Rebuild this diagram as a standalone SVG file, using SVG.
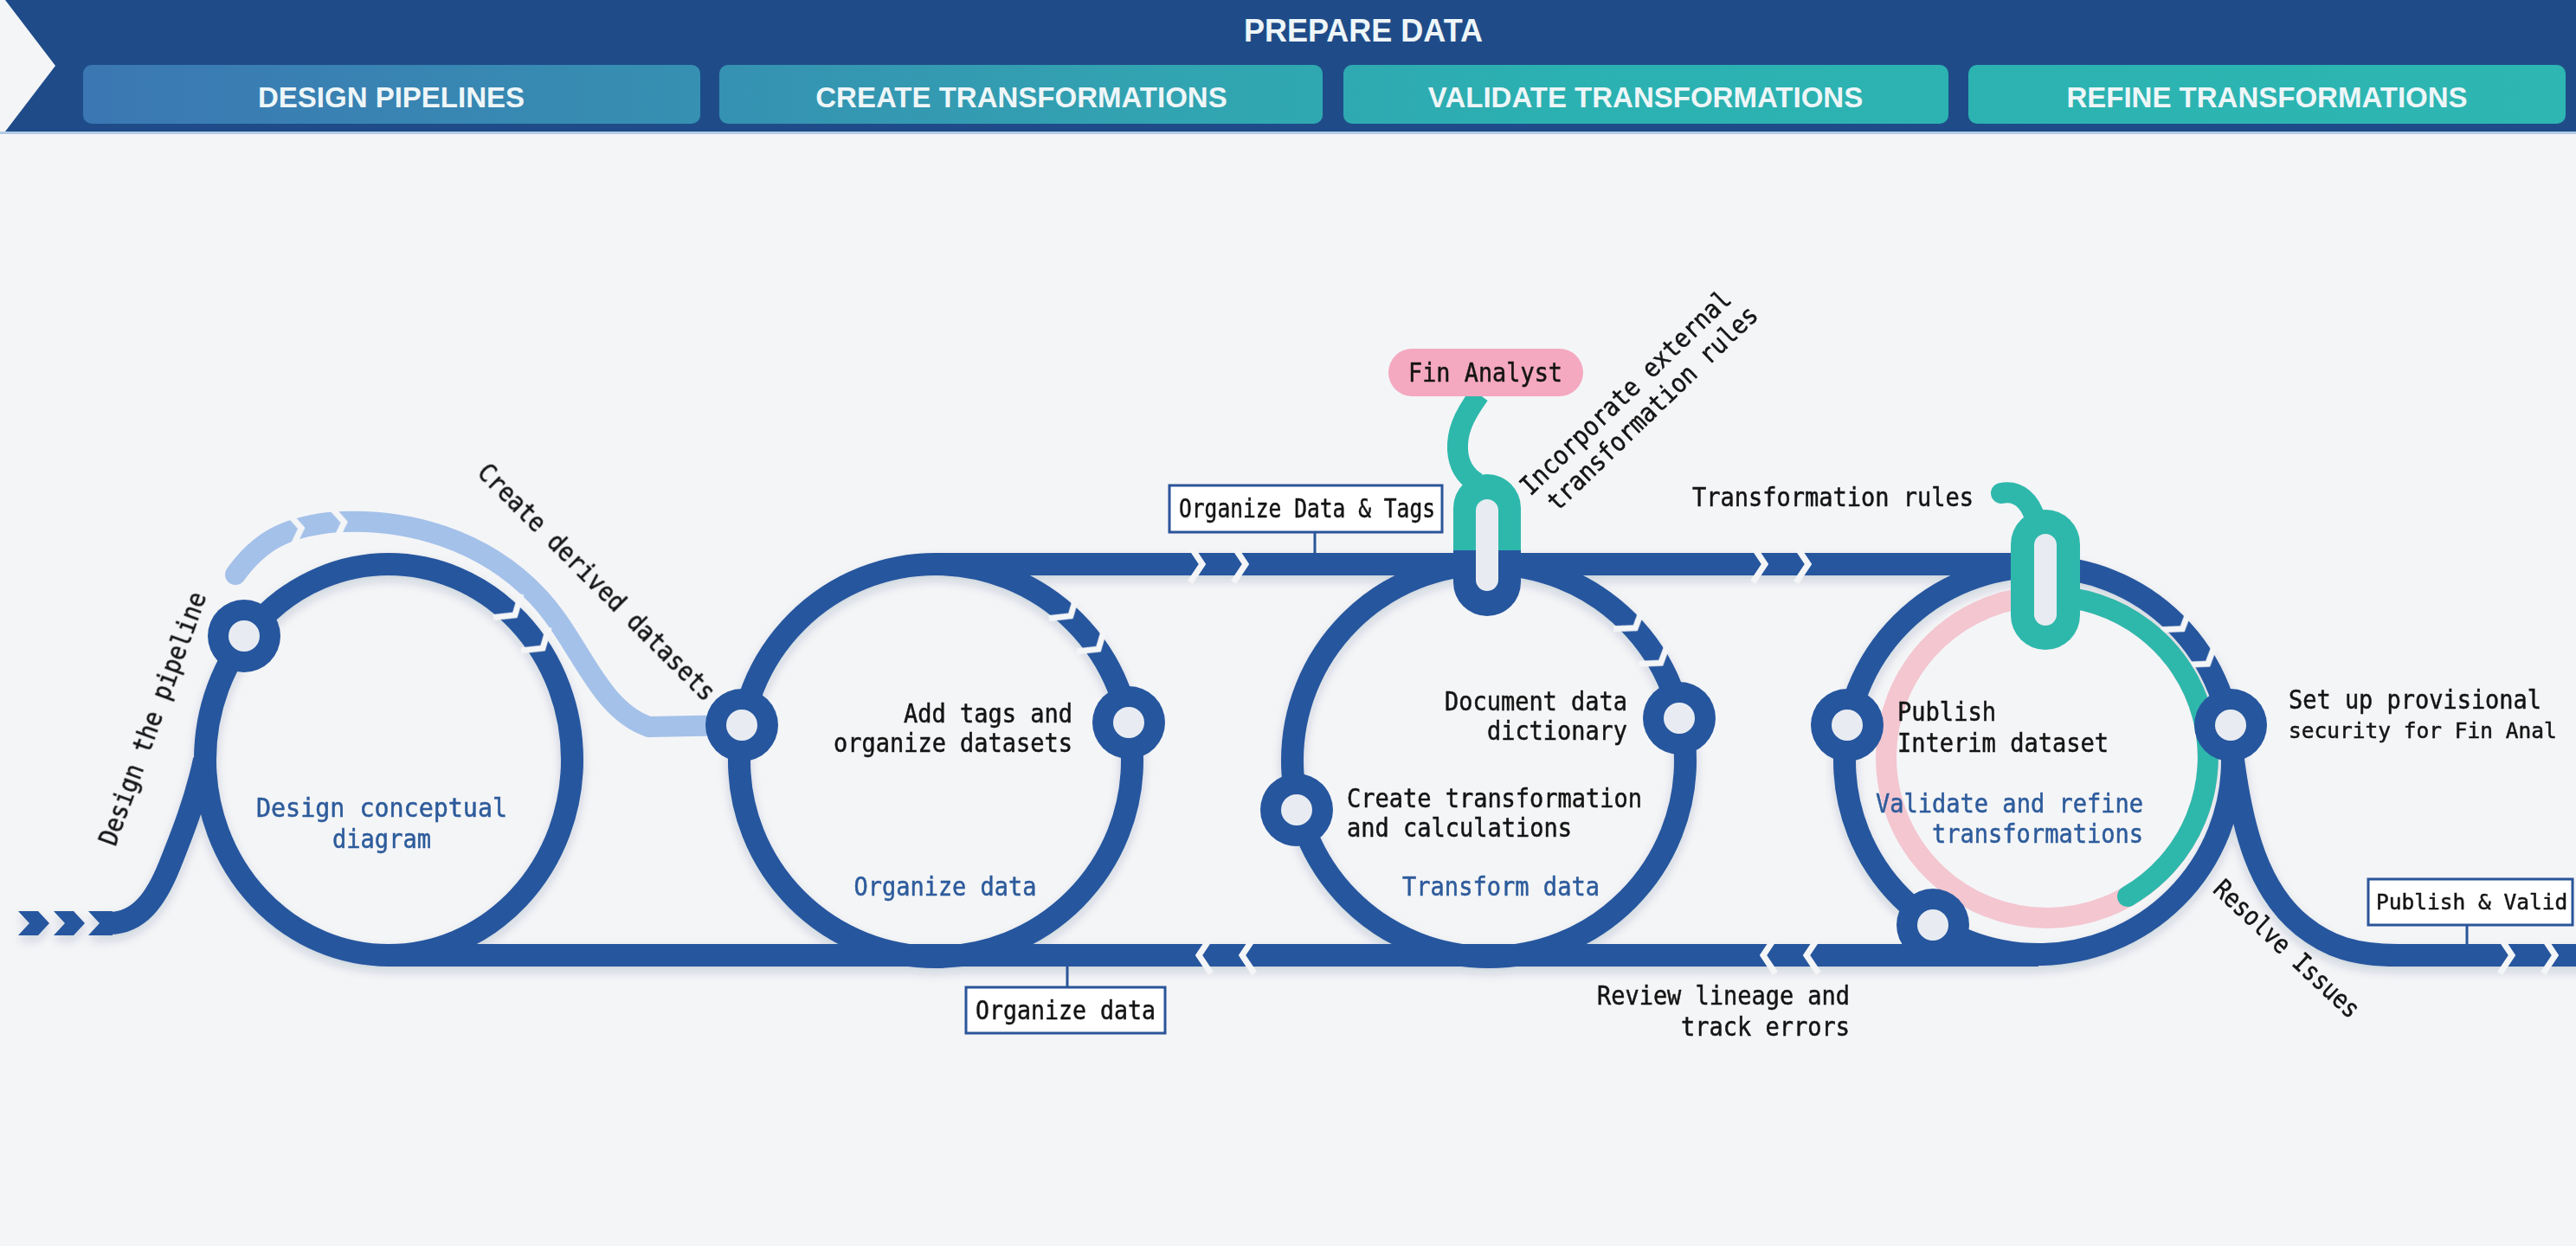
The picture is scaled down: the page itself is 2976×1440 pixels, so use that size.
<svg xmlns="http://www.w3.org/2000/svg" width="2976" height="1440" viewBox="0 0 2976 1440">
<defs>
  <linearGradient id="hdrGrad" gradientUnits="userSpaceOnUse" x1="96" y1="0" x2="2964" y2="0">
    <stop offset="0" stop-color="#3b77b3"/>
    <stop offset="0.42" stop-color="#32a2b1"/>
    <stop offset="0.6" stop-color="#2bb1b1"/>
    <stop offset="1" stop-color="#2db6b2"/>
  </linearGradient>
  <linearGradient id="capGrad" gradientUnits="userSpaceOnUse" x1="0" y1="548" x2="0" y2="712">
    <stop offset="0.537" stop-color="#2eb8ac"/>
    <stop offset="0.537" stop-color="#26569e"/>
  </linearGradient>
  <filter id="sh" x="-5%" y="-10%" width="110%" height="130%">
    <feDropShadow dx="0" dy="6" stdDeviation="6" flood-color="#1d2f55" flood-opacity="0.16"/>
  </filter>
  <g id="chev" fill="none" stroke="#f4f5f7" stroke-width="7">
    <polyline points="-39,-21 -25,0 -39,21"/>
    <polyline points="11,-21 25,0 11,21"/>
  </g>
  <polygon id="entryChev" points="0,-14 23,-14 36,0 23,14 0,14 13,0" fill="#26569e"/>
  <g id="ring"><circle r="42" fill="#26569e"/><circle r="18" fill="#e8ecf2"/></g>
</defs>
<style>
.trk{fill:none;stroke:#26569e;stroke-width:26}
.lbl{font-family:"DejaVu Sans Mono","Liberation Mono",monospace;font-size:30px;fill:#141414;stroke:#141414;stroke-width:0.5}
.sm{font-size:24.5px}
.blu{fill:#2d5b9b;stroke:#2d5b9b}
.hdr{font-family:"Liberation Sans",Arial,sans-serif;font-weight:bold;fill:#eef6f8;text-anchor:middle}
.box{fill:#ffffff;stroke:#2a5599;stroke-width:3}
.lead{stroke:#2a5599;stroke-width:3}
.teal{fill:none;stroke:#2eb8ac;stroke-width:24}
</style>
<rect x="0" y="0" width="2976" height="1440" fill="#f4f5f7"/>

<g id="header">
  <polygon points="6,0 2976,0 2976,152 6,152 64,76" fill="#1f4c89"/>
  <rect x="0" y="152" width="2976" height="3" fill="#b3cbe4"/>
  <text class="hdr" x="1575" y="48" font-size="36">PREPARE DATA</text>
  <g id="phase-design"><rect x="96" y="75" width="713" height="68" rx="10" fill="url(#hdrGrad)"/><text class="hdr" x="452" y="124" font-size="33">DESIGN PIPELINES</text></g>
  <g id="phase-create"><rect x="831" y="75" width="697" height="68" rx="10" fill="url(#hdrGrad)"/><text class="hdr" x="1180" y="124" font-size="33">CREATE TRANSFORMATIONS</text></g>
  <g id="phase-validate"><rect x="1552" y="75" width="699" height="68" rx="10" fill="url(#hdrGrad)"/><text class="hdr" x="1901" y="124" font-size="33">VALIDATE TRANSFORMATIONS</text></g>
  <g id="phase-refine"><rect x="2274" y="75" width="690" height="68" rx="10" fill="url(#hdrGrad)"/><text class="hdr" x="2619" y="124" font-size="33">REFINE TRANSFORMATIONS</text></g>
</g>

<g id="connectors">
  <path d="M 272 664 C 300 625 330 610 380 604 C 470 596 560 625 620 688 C 670 740 690 820 750 840 L 850 838" fill="none" stroke="#a4c1e9" stroke-width="24" stroke-linecap="round"/>
  <g filter="url(#sh)">
    <use href="#entryChev" transform="translate(21,1067)"/>
    <use href="#entryChev" transform="translate(62,1067)"/>
    <polygon points="102,1053 130,1053 130,1081 102,1081 115,1067" fill="#26569e"/>
    <path class="trk" d="M 126 1067 C 160 1067 180 1040 196 1000 C 210 965 226 925 236 878"/>
    <ellipse class="trk" cx="449" cy="878" rx="212" ry="226"/>
    <circle class="trk" cx="1081" cy="879" r="227"/>
    <circle class="trk" cx="1720" cy="879" r="227"/>
    <circle class="trk" cx="2355" cy="879" r="224"/>
    <path class="trk" d="M 1081 652 L 2355 652"/>
    <path class="trk" d="M 449 1104 L 2355 1104"/>
    <path class="trk" d="M 2579 870 C 2590 960 2610 1030 2660 1070 C 2690 1094 2720 1104 2770 1104 L 2990 1104"/>
  </g>
  <g id="arrows">
    <use href="#chev" transform="translate(373,607) rotate(-8)"/>
    <use href="#chev" transform="translate(611,730) rotate(50)"/>
    <use href="#chev" transform="translate(1253,731) rotate(50)"/>
    <use href="#chev" transform="translate(1904,746) rotate(54)"/>
    <use href="#chev" transform="translate(2536,747) rotate(54)"/>
    <use href="#chev" transform="translate(1414,652)"/>
    <use href="#chev" transform="translate(2064,652)"/>
    <use href="#chev" transform="translate(1410,1104) rotate(180)"/>
    <use href="#chev" transform="translate(2062,1104) rotate(180)"/>
    <use href="#chev" transform="translate(2927,1104)"/>
  </g>
  <circle cx="2365" cy="875" r="186" fill="none" stroke="#f3c6d0" stroke-width="24"/>
  <path d="M 2365 689 A 186 186 0 0 1 2458 1036" class="teal" stroke-width="26" stroke-linecap="round"/>
  <path d="M 1709 456 C 1690 482 1683 500 1684 520 C 1685 538 1693 550 1706 558" class="teal"/>
  <path d="M 2312 570 C 2332 566 2346 580 2352 602" class="teal" stroke-linecap="round"/>
  <line class="lead" x1="1519" y1="615" x2="1519" y2="640"/>
  <line class="lead" x1="1233" y1="1117" x2="1233" y2="1141"/>
  <line class="lead" x1="2850" y1="1069" x2="2850" y2="1092"/>
</g>

<g id="node-fin-analyst">
  <rect x="1604" y="403" width="225" height="55" rx="27.5" fill="#f4a9c0"/>
  <text class="lbl" x="1716" y="441" text-anchor="middle" textLength="178" lengthAdjust="spacingAndGlyphs">Fin Analyst</text>
</g>
<g id="node-hook-transform">
  <rect x="1679" y="548" width="78" height="164" rx="39" fill="url(#capGrad)"/>
  <rect x="1705" y="577" width="26" height="106" rx="13" fill="#e8ecf2"/>
</g>
<g id="node-hook-validate">
  <rect x="2323" y="589" width="80" height="162" rx="40" fill="#2eb8ac"/>
  <rect x="2350" y="617" width="26" height="106" rx="13" fill="#e8ecf2"/>
</g>

<g id="node-design-pipeline"><use href="#ring" transform="translate(282,735)"/></g>
<g id="node-add-tags-in"><use href="#ring" transform="translate(857,838)"/></g>
<g id="node-add-tags"><use href="#ring" transform="translate(1304,835)"/></g>
<g id="node-document"><use href="#ring" transform="translate(1940,830)"/></g>
<g id="node-create-calc"><use href="#ring" transform="translate(1498,936)"/></g>
<g id="node-publish-interim"><use href="#ring" transform="translate(2134,838)"/></g>
<g id="node-provisional"><use href="#ring" transform="translate(2577,838)"/></g>
<g id="node-review"><use href="#ring" transform="translate(2233,1069)"/></g>

<g id="labels">
  <text class="lbl" transform="translate(186,834) rotate(-70)" text-anchor="middle" textLength="309" lengthAdjust="spacingAndGlyphs">Design the pipeline</text>
  <text class="lbl" transform="translate(682,680) rotate(45)" text-anchor="middle" textLength="374" lengthAdjust="spacingAndGlyphs">Create derived datasets</text>
  <text class="lbl" transform="translate(1885,461) rotate(-44)" text-anchor="middle" textLength="325" lengthAdjust="spacingAndGlyphs">Incorporate external</text>
  <text class="lbl" transform="translate(1916,479) rotate(-44)" text-anchor="middle" textLength="325" lengthAdjust="spacingAndGlyphs">transformation rules</text>
  <text class="lbl" transform="translate(2635,1104) rotate(43)" text-anchor="middle" textLength="218" lengthAdjust="spacingAndGlyphs">Resolve Issues</text>

  <text class="lbl blu" x="441" y="944" text-anchor="middle" textLength="290" lengthAdjust="spacingAndGlyphs">Design conceptual</text>
  <text class="lbl blu" x="441" y="980" text-anchor="middle" textLength="114" lengthAdjust="spacingAndGlyphs">diagram</text>
  <text class="lbl" x="1239" y="835" text-anchor="end" textLength="195" lengthAdjust="spacingAndGlyphs">Add tags and</text>
  <text class="lbl" x="1239" y="869" text-anchor="end" textLength="276" lengthAdjust="spacingAndGlyphs">organize datasets</text>
  <text class="lbl blu" x="1092" y="1035" text-anchor="middle" textLength="211" lengthAdjust="spacingAndGlyphs">Organize data</text>
  <text class="lbl" x="1880" y="821" text-anchor="end" textLength="211" lengthAdjust="spacingAndGlyphs">Document data</text>
  <text class="lbl" x="1880" y="855" text-anchor="end" textLength="162" lengthAdjust="spacingAndGlyphs">dictionary</text>
  <text class="lbl" x="1556" y="933" textLength="341" lengthAdjust="spacingAndGlyphs">Create transformation</text>
  <text class="lbl" x="1556" y="967" textLength="260" lengthAdjust="spacingAndGlyphs">and calculations</text>
  <text class="lbl blu" x="1734" y="1035" text-anchor="middle" textLength="228" lengthAdjust="spacingAndGlyphs">Transform data</text>
  <text class="lbl" x="1955" y="585" textLength="325" lengthAdjust="spacingAndGlyphs">Transformation rules</text>
  <text class="lbl" x="2192" y="833" textLength="114" lengthAdjust="spacingAndGlyphs">Publish</text>
  <text class="lbl" x="2192" y="869" textLength="244" lengthAdjust="spacingAndGlyphs">Interim dataset</text>
  <text class="lbl blu" x="2476" y="939" text-anchor="end" textLength="309" lengthAdjust="spacingAndGlyphs">Validate and refine</text>
  <text class="lbl blu" x="2476" y="974" text-anchor="end" textLength="244" lengthAdjust="spacingAndGlyphs">transformations</text>
  <text class="lbl" x="2644" y="819" textLength="292" lengthAdjust="spacingAndGlyphs">Set up provisional</text>
  <text class="lbl sm" x="2644" y="853">security for Fin Anal</text>
  <text class="lbl" x="2137" y="1161" text-anchor="end" textLength="292" lengthAdjust="spacingAndGlyphs">Review lineage and</text>
  <text class="lbl" x="2137" y="1197" text-anchor="end" textLength="195" lengthAdjust="spacingAndGlyphs">track errors</text>

  <g id="tag-organize-tags"><rect class="box" x="1351" y="561" width="315" height="54"/><text class="lbl" x="1362" y="598" textLength="296" lengthAdjust="spacingAndGlyphs">Organize Data &amp; Tags</text></g>
  <g id="tag-organize-data"><rect class="box" x="1116" y="1141" width="230" height="53"/><text class="lbl" x="1231" y="1178" text-anchor="middle" textLength="208" lengthAdjust="spacingAndGlyphs">Organize data</text></g>
  <g id="tag-publish"><rect class="box" x="2736" y="1016" width="236" height="53"/><text class="lbl sm" x="2745" y="1051">Publish &amp; Valid</text></g>
</g>
</svg>
